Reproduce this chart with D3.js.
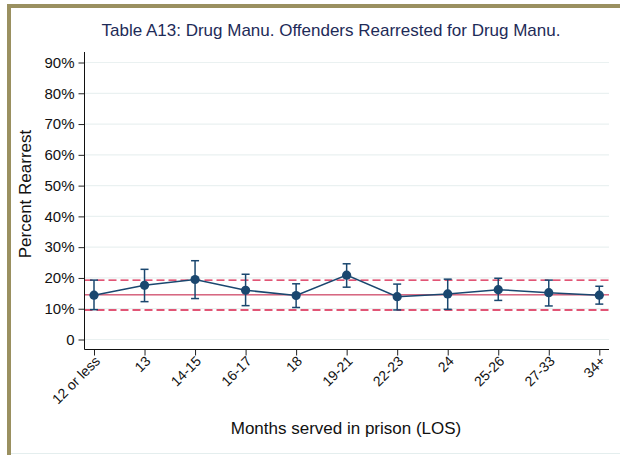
<!DOCTYPE html>
<html>
<head>
<meta charset="utf-8">
<script src="https://cdn.jsdelivr.net/npm/d3@7"></script>
<style>
  body { margin: 0; background: #fff; }
  text { font-family: "Liberation Sans", Arial, sans-serif; }
</style>
</head>
<body>
<div id="vis"></div>
<script>
const width = 620
const height = 455

// data
const categories = ["12 or less", "13", "14-15", "16-17", "18", "19-21", "22-23", "24", "25-26", "27-33", "34+"]
const rates = [14.4, 17.6, 19.5, 16.0, 14.3, 20.9, 13.9, 14.8, 16.2, 15.2, 14.4]
const lower = [9.7, 12.3, 13.3, 11.0, 10.4, 17.0, 9.6, 9.8, 12.7, 10.9, 11.5]
const upper = [19.3, 22.8, 25.6, 21.2, 18.1, 24.6, 18.0, 19.6, 19.9, 19.3, 17.3]
const yTicks = [0, 10, 20, 30, 40, 50, 60, 70, 80, 90]
const overall = 14.5
const overallLow = 9.6
const overallHigh = 19.3

const plotLeft = 84.5
const plotRight = 609
const plotTop = 52
const plotBottom = 349.5

const svg = d3.select("#vis")
    .append("svg")
    .attr("width", width)
    .attr("height", height)

// frame
svg.append("rect").attr("x", 7).attr("y", 4).attr("width", width - 7).attr("height", 4).attr("fill", "#9a9060")
svg.append("rect").attr("x", 7).attr("y", 4).attr("width", 4).attr("height", height - 4).attr("fill", "#9a9060")
svg.append("line")
    .attr("x1", 11).attr("x2", width).attr("y1", 453.5).attr("y2", 453.5)
    .attr("stroke", "#e4eeee")

const xScale = d3.scaleLinear([0, categories.length - 1], [94, 599.3])
const yScale = d3.scaleLinear([0, 90], [339.5, 62.5])

// gridlines
svg.selectAll("line.grid")
    .data(yTicks)
    .join("line")
        .attr("class", "grid")
        .attr("x1", plotLeft).attr("x2", plotRight)
        .attr("y1", d => yScale(d)).attr("y2", d => yScale(d))
        .attr("stroke", "#eaf1f1")
        .attr("stroke-width", 1.2)

// reference band
svg.append("line")
    .attr("x1", plotLeft).attr("x2", plotRight)
    .attr("y1", yScale(overall)).attr("y2", yScale(overall))
    .attr("stroke", "#c0143c")
    .attr("stroke-width", 1)
svg.selectAll("line.band")
    .data([overallLow, overallHigh])
    .join("line")
        .attr("class", "band")
        .attr("x1", plotLeft).attr("x2", plotRight)
        .attr("y1", d => yScale(d)).attr("y2", d => yScale(d))
        .attr("stroke", "#d81e48")
        .attr("stroke-width", 1.4)
        .attr("stroke-dasharray", "8,4")

// axes
const axisL = d3.axisLeft(yScale)
    .tickValues(yTicks)
    .tickFormat(d => d === 0 ? "0" : d + "%")
    .tickSize(6)
    .tickPadding(4)
const yAxis = svg.append("g")
    .attr("transform", `translate(${plotLeft}, 0)`)
    .call(axisL)
yAxis.select(".domain").remove()
yAxis.selectAll("text").attr("font-size", 15).attr("fill", "#111").style("font-family", "Liberation Sans, Arial, sans-serif")
yAxis.selectAll("line").attr("stroke", "#222")
svg.append("line")
    .attr("x1", plotLeft).attr("x2", plotLeft).attr("y1", plotTop).attr("y2", plotBottom)
    .attr("stroke", "#111")

const axisB = d3.axisBottom(xScale)
    .tickValues(d3.range(categories.length))
    .tickFormat(i => categories[i])
    .tickSize(6)
const xAxis = svg.append("g")
    .attr("transform", `translate(0, ${plotBottom})`)
    .call(axisB)
xAxis.select(".domain").remove()
xAxis.selectAll("line").attr("stroke", "#222")
xAxis.selectAll("text")
    .attr("font-size", 14)
    .attr("fill", "#111")
    .style("font-family", "Liberation Sans, Arial, sans-serif")
    .attr("text-anchor", "end")
    .attr("x", 0)
    .attr("y", 0)
    .attr("dy", "0.35em")
    .attr("transform", "translate(3, 9) rotate(-45)")
svg.append("line")
    .attr("x1", plotLeft).attr("x2", plotRight).attr("y1", plotBottom).attr("y2", plotBottom)
    .attr("stroke", "#111")

// error bars
const navy = "#1a476f"
const idx = d3.range(categories.length)
svg.selectAll("line.err")
    .data(idx)
    .join("line")
        .attr("class", "err")
        .attr("x1", i => xScale(i)).attr("x2", i => xScale(i))
        .attr("y1", i => yScale(lower[i])).attr("y2", i => yScale(upper[i]))
        .attr("stroke", navy).attr("stroke-width", 1.5)
svg.selectAll("line.capTop")
    .data(idx)
    .join("line")
        .attr("class", "capTop")
        .attr("x1", i => xScale(i) - 4).attr("x2", i => xScale(i) + 4)
        .attr("y1", i => yScale(upper[i])).attr("y2", i => yScale(upper[i]))
        .attr("stroke", navy).attr("stroke-width", 1.5)
svg.selectAll("line.capBot")
    .data(idx)
    .join("line")
        .attr("class", "capBot")
        .attr("x1", i => xScale(i) - 4).attr("x2", i => xScale(i) + 4)
        .attr("y1", i => yScale(lower[i])).attr("y2", i => yScale(lower[i]))
        .attr("stroke", navy).attr("stroke-width", 1.5)

// connecting line and points
svg.append("path")
    .datum(idx)
    .attr("fill", "none")
    .attr("stroke", navy)
    .attr("stroke-width", 1.5)
    .attr("d", d3.line().x(i => xScale(i)).y(i => yScale(rates[i])))
svg.selectAll("circle.pt")
    .data(idx)
    .join("circle")
        .attr("class", "pt")
        .attr("cx", i => xScale(i))
        .attr("cy", i => yScale(rates[i]))
        .attr("r", 4.6)
        .attr("fill", navy)

// titles
svg.append("text")
    .attr("x", 331).attr("y", 36)
    .attr("text-anchor", "middle")
    .attr("font-size", 17)
    .attr("fill", "#1e2b58")
    .text("Table A13: Drug Manu. Offenders Rearrested for Drug Manu.")
svg.append("text")
    .attr("transform", "translate(31, 194) rotate(-90)")
    .attr("text-anchor", "middle")
    .attr("font-size", 17)
    .attr("fill", "#111")
    .text("Percent Rearrest")
svg.append("text")
    .attr("x", 346).attr("y", 434)
    .attr("text-anchor", "middle")
    .attr("font-size", 17)
    .attr("fill", "#111")
    .text("Months served in prison (LOS)")
</script>
</body>
</html>
